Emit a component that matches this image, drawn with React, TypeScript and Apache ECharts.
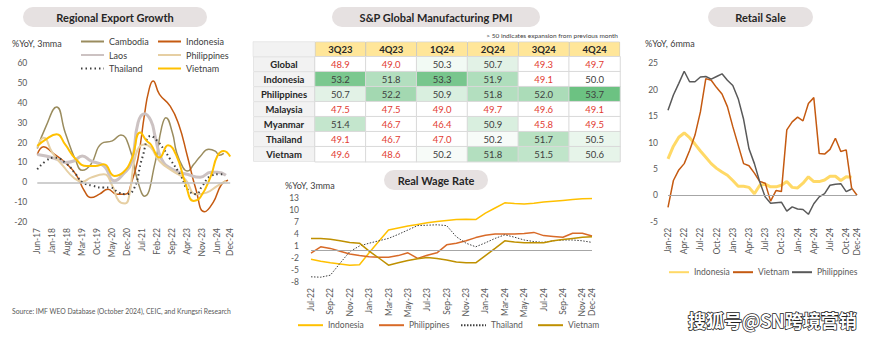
import React, { useEffect, useRef } from 'react';
import * as echarts from 'echarts';

const W = 870;
const H = 339;
const FONT = 'Lato, "Liberation Sans", sans-serif';

function months(startYear: number, startMonth: number, count: number): string[] {
  const names = ['Jan', 'Feb', 'Mar', 'Apr', 'May', 'Jun', 'Jul', 'Aug', 'Sep', 'Oct', 'Nov', 'Dec'];
  const out: string[] = [];
  for (let i = 0; i < count; i++) {
    const t = startMonth + i;
    const y = startYear + Math.floor(t / 12);
    out.push(names[t % 12] + '-' + String(y % 100).padStart(2, '0'));
  }
  return out;
}

// ---------- Regional Export Growth (Jun-17 .. Dec-24, [monthIndex, %YoY]) ----------
const exportMonths = months(2017, 5, 91);
const expCambodia = [[0,17],[4,28],[9,37.8],[13,25],[18,10.7],[21,6],[25,9],[30,19.5],[35,20.8],[39,23.8],[43,17.4],[47,0],[50,-7],[55,10],[58,27.5],[60,32.5],[63,25],[65,15],[68,7.4],[70,5.7],[73,9],[76,13],[80,16.6],[83,15.7],[85,13.6],[87,14.5]];
const expIndonesia = [[0,14],[3,17.9],[7,14.9],[13,9.9],[18,4],[22,-4.4],[25,-7.7],[29,-6],[33,-3.5],[37,-6],[41,-6],[44,0],[47,12],[50,34],[52,46],[54,51],[57,44.2],[62,38.3],[66,29],[70,13.2],[74,-3.5],[78,-14.9],[82,-10.2],[86,-1],[89,1]];
const expLaos = [[0,14],[4,13.2],[9,11.6],[13,9.9],[17,10.7],[21,13.2],[25,10.7],[31,8.2],[36,0.7],[40,4],[44,10],[47,30],[50,34.5],[53,31],[55,23],[58,11.6],[63,6.5],[70,4],[76,2.5],[81,5],[84,5],[88,3.5]];
const expPhilippines = [[0,17.4],[3,22.4],[7,14.9],[12,8.2],[17,2.3],[21,0.3],[25,2.3],[31,4],[35,-1.8],[38,-9.4],[41,-10.7],[43,-6],[46,14],[50,19],[53,17.4],[57,10.7],[63,5.7],[69,1.5],[74,-6],[79,-5.2],[84,-1.8],[88,0.7]];
const expThailand = [[0,6.5],[4,10.7],[8,12.4],[13,9.9],[18,4],[21,0],[26,-1.8],[31,-2.7],[34,-2.7],[38,-5.2],[41,-6],[45,-3.5],[49,12.4],[53,23.3],[56,20.8],[59,16.6],[62,11.6],[67,3.2],[70,-3.5],[74,-6],[77,-1.8],[81,3.2],[85,4],[87,4]];
const expVietnam = [[0,18.2],[4,21.6],[9,24.1],[13,19],[18,11.6],[23,8.2],[27,8.2],[31,9],[36,3.2],[40,4.9],[44,11.6],[48,25],[51,20.8],[53,19],[57,12.4],[61,18.6],[65,13.2],[69,-0.2],[73,-9.4],[76,-7.7],[81,3.2],[84,13.2],[87,15.7],[90,12.9]];

// ---------- PMI table ----------
const pmiQuarters = ['3Q23', '4Q23', '1Q24', '2Q24', '3Q24', '4Q24'];
const pmiCountries = ['Global', 'Indonesia', 'Philippines', 'Malaysia', 'Myanmar', 'Thailand', 'Vietnam'];
const pmiGlobal = [48.9, 49.0, 50.3, 50.7, 49.3, 49.7];
const pmiIndonesia = [53.2, 51.8, 53.3, 51.9, 49.1, 50.0];
const pmiPhilippines = [50.7, 52.2, 50.9, 51.8, 52.0, 53.7];
const pmiMalaysia = [47.5, 47.5, 49.0, 49.7, 49.6, 49.1];
const pmiMyanmar = [51.4, 46.7, 46.4, 50.9, 45.8, 49.5];
const pmiThailand = [49.1, 46.7, 47.0, 50.2, 51.7, 50.5];
const pmiVietnam = [49.6, 48.6, 50.2, 51.8, 51.5, 50.6];
const pmiRows = [pmiGlobal, pmiIndonesia, pmiPhilippines, pmiMalaysia, pmiMyanmar, pmiThailand, pmiVietnam];

// ---------- Real Wage Rate (Jul-22 .. Dec-24) ----------
const wageMonths = months(2022, 6, 30);
const wageTicks = [-8, -5, -2, 1, 4, 7, 10, 13];
const wageIndonesia = [-2.3, -2.8, -3.2, -3.5, -3.8, -3.7, -0.7, 2.2, 5.0, 5.5, 6.0, 6.4, 6.8, 7.1, 7.4, 7.6, 7.7, 7.6, 9.2, 10.5, 11.8, 11.6, 11.5, 11.7, 12.0, 12.2, 12.4, 12.6, 12.8, 12.9];
const wagePhilippines = [-0.8, 0.8, 0.4, -0.3, -1.0, -1.4, -1.7, -1.8, -1.8, -1.4, -0.7, -2.1, -1.3, -0.7, 1.3, 1.7, 2.3, 3.1, 3.7, 4.0, 4.0, 4.0, 4.1, 4.4, 3.6, 3.4, 3.2, 4.2, 4.2, 3.5];
const wageThailand = [-6.7, -6.8, -6.3, -3.3, -0.4, 1.0, 1.7, 2.3, 2.9, 3.9, 5.0, 6.1, 6.2, 6.3, 6.1, 3.3, 1.7, 0.8, 1.8, 2.9, 3.8, 3.2, 2.5, 2.1, 1.9, 2.3, 2.5, 2.5, 2.3, 1.9];
const wageVietnam = [2.9, 2.9, 2.7, 2.3, 1.9, 1.7, -0.3, -2.0, -3.8, -3.2, -2.6, -2.2, -1.9, -2.1, -2.5, -3.0, -3.2, -3.2, -1.4, 0.4, 2.3, 2.0, 1.8, 1.8, 1.8, 2.3, 2.6, 2.9, 3.2, 3.3];

// ---------- Retail Sale (Jan-22 .. Dec-24) ----------
const retailMonths = months(2022, 0, 36);
const retailIndonesia = [6.9, 9.3, 11.0, 11.8, 10.9, 9.7, 8.4, 7.2, 6.0, 5.1, 4.4, 3.8, 2.8, 1.7, 1.7, 1.5, 0.3, 1.9, 2.1, 1.6, 1.6, 1.9, 2.6, 1.5, 1.4, 2.3, 3.5, 2.6, 2.6, 2.9, 3.6, 3.6, 2.8, 3.5, 3.4, null];
const retailVietnam = [-2.3, 2.8, 4.8, 6.0, 8.5, 11.4, 15.8, 22.1, 21.8, 20.4, 19.2, 16.8, 13.0, 9.5, 6.0, 5.6, 4.2, 2.6, 2.3, -1.1, 0.9, 0.7, 12.4, 13.9, 14.8, 14.1, 17.4, 18.5, 7.9, 7.8, 8.7, 10.8, 8.3, 8.6, 1.4, 0];
const retailPhilippines = [16.1, 19.0, 21.2, 23.5, 21.5, 21.5, 22.4, 22.5, 22.0, 22.5, 23.0, 21.8, 20.8, 18.3, 14.4, 8.8, 6.0, 2.5, -0.3, -1.5, -1.4, -1.3, -3.0, -2.2, -2.6, -2.7, -3.6, -1.6, -0.3, 0.3, 1.9, 2.1, 2.2, 0.7, 1.2, null];

// ---------- helpers ----------
function pill(cx: number, y: number, w: number, title: string): any[] {
  return [
    { type: 'rect', shape: { x: cx - w / 2, y, width: w, height: 20, r: 10 }, style: { fill: '#E6E1E1' }, z: 1 },
    {
      type: 'text', x: cx, y: y + 10, z: 2,
      style: { text: title, fill: '#262626', fontSize: 11, fontWeight: 'bold', fontFamily: FONT, align: 'center', verticalAlign: 'middle', textAlign: 'center', textVerticalAlign: 'middle' },
    },
  ];
}
function label(x: number, y: number, text: string, size: number, color: string, align = 'left'): any {
  return {
    type: 'text', x, y, z: 2,
    style: { text, fill: color, fontSize: size, fontFamily: FONT, align, verticalAlign: 'middle', textAlign: align, textVerticalAlign: 'middle' },
  };
}
function zeroLine(color = '#BFBFBF', width = 1.5): any {
  return { silent: true, symbol: 'none', label: { show: false }, lineStyle: { color, width, type: 'solid' }, data: [{ yAxis: 0 }], animation: false };
}
function lineSeries(name: string, data: any[], color: string, width: number, extra: any = {}): any {
  return { name, type: 'line', data, symbol: 'none', showSymbol: false, lineStyle: { color, width, ...(extra.lineStyle || {}) }, itemStyle: { color }, smooth: extra.smooth ?? false, z: extra.z ?? 3, connectNulls: false, ...(extra.markLine ? { markLine: extra.markLine } : {}) };
}
// legend whose first row is centred on y = cy
function legendAt(left: number, cy: number, names: string[], itemWidth: number, vertical = false, color = '#404040', size = 9, gap = 3.5): any {
  return {
    left, top: cy - 5, padding: 0, orient: vertical ? 'vertical' : 'horizontal', itemWidth, itemHeight: 10, itemGap: gap,
    selectedMode: false, itemStyle: { opacity: 0 }, textStyle: { fontSize: size, color, fontFamily: FONT }, data: names,
  };
}
const axisLabelStyle = { fontSize: 8.5, color: '#595959', fontFamily: FONT };

// ---------- Option 1: export ----------
const exportOption: any = {
  animation: false,
  textStyle: { fontFamily: FONT },
  grid: { left: 37.3, top: 63, width: 192.9, height: 159 },
  xAxis: {
    type: 'category', data: exportMonths, boundaryGap: false,
    axisLine: { show: false }, axisTick: { show: false },
    axisLabel: { ...axisLabelStyle, rotate: 90, margin: 6, interval: (i: number) => i % 7 === 0 || i === 90 },
  },
  yAxis: {
    type: 'value', min: -20, max: 60, interval: 10, splitLine: { show: false },
    axisLine: { show: false }, axisTick: { show: false },
    axisLabel: { ...axisLabelStyle, margin: 10 },
  },
  legend: [
    legendAt(80, 42, ['Cambodia', 'Laos', 'Thailand'], 23, true, '#404040', 9, 4.5),
    legendAt(157, 42, ['Indonesia', 'Philippines', 'Vietnam'], 23, true, '#404040', 9, 4.5),
  ],
  series: [
    lineSeries('Cambodia', expCambodia, '#9A8C5E', 1.5, { smooth: 0.5, markLine: zeroLine(), z: 2 }),
    lineSeries('Indonesia', expIndonesia, '#C55A11', 1.5, { smooth: 0.5 }),
    lineSeries('Laos', expLaos, '#CCC2C2', 3, { smooth: 0.5 }),
    lineSeries('Philippines', expPhilippines, '#E6CFA3', 2, { smooth: 0.5 }),
    lineSeries('Thailand', expThailand, '#404040', 2, { smooth: 0.5, lineStyle: { type: [1.5, 3] } }),
    lineSeries('Vietnam', expVietnam, '#FFC000', 2, { smooth: 0.5 }),
  ],
  graphic: [
    ...pill(115, 7, 184, 'Regional Export Growth'),
    label(12, 43, '%YoY, 3mma', 9, '#404040'),
    label(12, 311, 'Source: IMF WEO Database (October 2024), CEIC, and Krungsri Research', 6.8, '#595959'),
  ],
};

// ---------- Option 2: PMI table + real wage ----------
function rampColor(v: number): string {
  const t = Math.max(0, Math.min(1, (v - 50) / 3.7));
  const a = [255, 255, 255];
  const b = [99, 190, 123];
  const c = a.map((x, i) => Math.round(x + (b[i] - x) * t));
  return `rgb(${c[0]},${c[1]},${c[2]})`;
}
// colour stops for visualMap from 45 to 54 (one per unit): white below 50, green ramp above
const pmiColorStops = [45, 46, 47, 48, 49, 50, 51, 52, 53, 54].map(rampColor);

const pmiCells: any[] = [];
pmiRows.forEach((row, ri) => {
  row.forEach((v, ci) => {
    pmiCells.push({ value: [ci, ri, v], label: { color: v < 50 ? '#E23B32' : '#404040' } });
  });
});

const middleOption: any = {
  animation: false,
  textStyle: { fontFamily: FONT },
  visualMap: {
    show: false, type: 'continuous', seriesIndex: 0, dimension: 2, min: 45, max: 54,
    inRange: { color: pmiColorStops },
  },
  grid: [
    { left: 315, top: 56.7, width: 305, height: 105 },
    { left: 311, top: 198, width: 281, height: 84 },
  ],
  xAxis: [
    {
      gridIndex: 0, type: 'category', position: 'top', data: pmiQuarters,
      axisLine: { show: false }, axisTick: { show: false }, splitLine: { show: false },
      axisLabel: {
        interval: 0, fontSize: 9.5, fontWeight: 'bold', color: '#262626', fontFamily: FONT,
        backgroundColor: '#FFE699', width: 50, height: 14, lineHeight: 14, align: 'center', verticalAlign: 'middle',
        borderColor: '#BFBFBF', borderWidth: 0.5, margin: 7.5,
      },
    },
    {
      gridIndex: 1, type: 'category', data: wageMonths, boundaryGap: false,
      axisLine: { show: false }, axisTick: { show: false },
      axisLabel: { ...axisLabelStyle, rotate: 90, margin: 6, interval: (i: number) => i % 2 === 0 || i === 29 },
    },
  ],
  yAxis: [
    {
      gridIndex: 0, type: 'category', inverse: true, data: pmiCountries,
      axisLine: { show: false }, axisTick: { show: false }, splitLine: { show: false },
      axisLabel: {
        interval: 0, fontSize: 9.5, fontWeight: 'bold', color: '#262626', fontFamily: FONT,
        backgroundColor: '#F2F2F2', width: 61, height: 14, lineHeight: 14, align: 'center', verticalAlign: 'middle',
        borderColor: '#D9D9D9', borderWidth: 0.5, margin: 31,
      },
    },
    {
      gridIndex: 1, type: 'value', min: -8, max: 13, splitLine: { show: false },
      axisLine: { show: false }, axisTick: { show: false },
      axisLabel: { ...axisLabelStyle, margin: 12, customValues: wageTicks },
    },
  ],
  legend: [
    legendAt(297, 325.7, ['Indonesia'], 25, false, '#595959', 8.5),
    legendAt(378, 325.7, ['Philippines'], 25, false, '#595959', 8.5),
    legendAt(460, 325.7, ['Thailand'], 25, false, '#595959', 8.5),
    legendAt(537, 325.7, ['Vietnam'], 25, false, '#595959', 8.5),
  ],
  series: [
    {
      name: 'PMI', type: 'heatmap', xAxisIndex: 0, yAxisIndex: 0, data: pmiCells,
      itemStyle: { borderColor: '#D9D9D9', borderWidth: 1 },
      label: { show: true, fontSize: 9.5, fontFamily: FONT, formatter: (p: any) => Number(p.value[2]).toFixed(1) },
      emphasis: { disabled: true },
    },
    { ...lineSeries('Indonesia', wageIndonesia, '#FFC000', 1.5, { markLine: zeroLine('#A6A6A6', 1) }), xAxisIndex: 1, yAxisIndex: 1 },
    { ...lineSeries('Philippines', wagePhilippines, '#D86A28', 1.5), xAxisIndex: 1, yAxisIndex: 1 },
    { ...lineSeries('Thailand', wageThailand, '#404040', 1, { lineStyle: { type: [1.5, 1.5] } }), xAxisIndex: 1, yAxisIndex: 1 },
    { ...lineSeries('Vietnam', wageVietnam, '#BF9000', 1.5), xAxisIndex: 1, yAxisIndex: 1 },
  ],
  graphic: [
    ...pill(436, 7, 208, 'S&P Global Manufacturing PMI'),
    label(618, 35, '> 50 indicates expansion from previous month', 6.5, '#404040', 'right'),
    { type: 'rect', shape: { x: 253, y: 41.7, width: 62, height: 15 }, style: { fill: '#F2F2F2', stroke: '#D9D9D9', lineWidth: 0.5 }, z: 1 },
    ...pill(436, 170, 104, 'Real Wage Rate'),
    label(285, 185, '%YoY, 3mma', 9, '#404040'),
  ],
};

// ---------- Option 3: retail ----------
const retailOption: any = {
  animation: false,
  textStyle: { fontFamily: FONT },
  grid: { left: 668, top: 63.3, width: 189, height: 158.4 },
  xAxis: {
    type: 'category', data: retailMonths, boundaryGap: false,
    axisLine: { show: false }, axisTick: { show: false },
    axisLabel: { ...axisLabelStyle, rotate: 90, margin: 6, interval: (i: number) => i % 3 === 0 || i === 35 },
  },
  yAxis: {
    type: 'value', min: -5, max: 25, interval: 5, splitLine: { show: false },
    axisLine: { show: false }, axisTick: { show: false },
    axisLabel: { ...axisLabelStyle, margin: 10 },
  },
  legend: [
    legendAt(668, 272.7, ['Indonesia'], 20, false, '#595959', 8.5),
    legendAt(732, 272.7, ['Vietnam'], 20, false, '#595959', 8.5),
    legendAt(791, 272.7, ['Philippines'], 20, false, '#595959', 8.5),
  ],
  series: [
    lineSeries('Indonesia', retailIndonesia, '#FFD966', 3, { markLine: zeroLine('#A6A6A6', 1), z: 2 }),
    lineSeries('Vietnam', retailVietnam, '#C55A11', 1.5),
    lineSeries('Philippines', retailPhilippines, '#595959', 1.5),
  ],
  graphic: [
    ...pill(760.5, 7, 105, 'Retail Sale'),
    label(645, 43, '%YoY, 6mma', 9, '#404040'),
    {
      type: 'text', x: 688, y: 320, z: 5,
      style: {
        text: '搜狐号@SN跨境营销', fill: '#ffffff', stroke: '#222222', lineWidth: 1.5,
        fontSize: 18, fontWeight: 'bold', fontFamily: '"Noto Sans CJK SC", sans-serif',
        align: 'left', verticalAlign: 'middle', textAlign: 'left', textVerticalAlign: 'middle',
      },
    },
  ],
};

function EChart({ option }: { option: any }) {
  const ref = useRef<HTMLDivElement>(null);
  useEffect(() => {
    if (!ref.current) return;
    const chart = echarts.init(ref.current, undefined, { renderer: 'svg' });
    chart.setOption(option);
    return () => chart.dispose();
  }, [option]);
  return <div ref={ref} style={{ position: 'absolute', left: 0, top: 0, width: W, height: H }} />;
}

export default function App() {
  return (
    <div style={{ position: 'fixed', left: 0, top: 0, width: W, height: H, background: '#ffffff', overflow: 'hidden' }}>
      <EChart option={exportOption} />
      <EChart option={middleOption} />
      <EChart option={retailOption} />
    </div>
  );
}
